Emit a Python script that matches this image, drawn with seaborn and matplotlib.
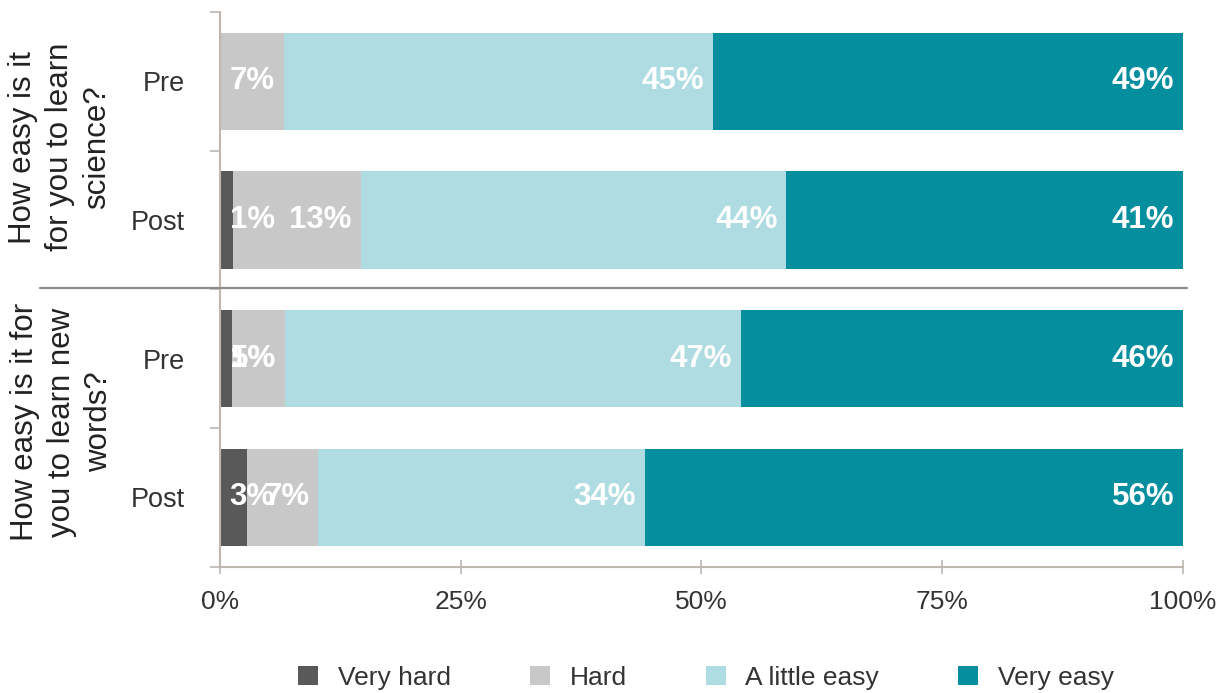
import pandas as pd
import seaborn as sns
import matplotlib.pyplot as plt
from matplotlib.patches import Patch
from matplotlib.lines import Line2D

# data (percent shares)
rows = ["sci_pre", "sci_post", "words_pre", "words_post"]
row_labels = ["Pre", "Post", "Pre", "Post"]
levels = ["Very hard", "Hard", "A little easy", "Very easy"]
very_hard = [0.0, 1.4, 1.3, 2.8]
hard = [6.6, 13.2, 5.4, 7.4]
little_easy = [44.6, 44.2, 47.4, 33.9]
very_easy = [48.8, 41.2, 45.9, 55.9]
groups = ["How easy is it\nfor you to learn\nscience?",
          "How easy is it for\nyou to learn new\nwords?"]
colors = ["#595959", "#c8c8c8", "#aedce2", "#048e9e"]

sns.set_style("white")
plt.rcParams["font.family"] = ["Liberation Sans", "DejaVu Sans"]

df = pd.DataFrame({"row": rows, "Very hard": very_hard, "Hard": hard,
                   "A little easy": little_easy, "Very easy": very_easy})
cum = df[levels].cumsum(axis=1)
for lev in levels:
    df["cum_" + lev] = cum[lev]
    df["start_" + lev] = cum[lev] - df[lev]

fig = plt.figure(figsize=(12.31, 6.93), dpi=100)
ax = fig.add_axes([0.1787, 0.182, 0.7823, 0.801])

# stacked bars: draw cumulative totals from widest to narrowest
for lev, col in reversed(list(zip(levels, colors))):
    sns.barplot(data=df, x="cum_" + lev, y="row", order=rows, color=col,
                width=0.7, orient="h", ax=ax, saturation=1,
                edgecolor="none", linewidth=0)

# value labels
for i, r in df.iterrows():
    for lev in levels:
        v = r[lev]
        if v < 0.5:
            continue
        txt = f"{round(v)}%"
        if v >= 5:
            ax.text(r["cum_" + lev] - 0.9, i, txt, ha="right", va="center",
                    color="white", fontsize=22.5, fontweight="bold")
        else:
            ax.text(r["start_" + lev] + 1.0, i, txt, ha="left", va="center",
                    color="white", fontsize=22.5, fontweight="bold")

ax.set_xlim(0, 100)
ax.set_ylim(3.5, -0.5)
ax.set_xticks([0, 25, 50, 75, 100])
ax.set_xticklabels(["0%", "25%", "50%", "75%", "100%"], fontsize=19, color="#333333")
ax.set_yticks(range(4))
ax.set_yticklabels(row_labels, fontsize=19.5, color="#333333")
ax.set_yticks([-0.5, 0.5, 1.5, 2.5, 3.5], minor=True)
ax.tick_params(axis="y", which="major", left=True, length=0, pad=25)
ax.tick_params(axis="y", which="minor", left=True, length=7, color="#bfb8b0", width=1.2)
ax.tick_params(axis="x", bottom=True, direction="inout", length=10, color="#bfb8b0",
               width=1.2, pad=12)
ax.set_xlabel("")
ax.set_ylabel("")
for s in ["top", "right"]:
    ax.spines[s].set_visible(False)
for s in ["left", "bottom"]:
    ax.spines[s].set_color("#bfb8b0")
    ax.spines[s].set_linewidth(1.5)

# group labels and separator
fig.text(60 / 1231, 1 - 147 / 693, groups[0], rotation=90, ha="center", va="center",
         fontsize=22.5, color="#222222", linespacing=1.3, multialignment="center")
fig.text(62 / 1231, 1 - 422 / 693, groups[1], rotation=90, ha="center", va="center",
         fontsize=22.5, color="#222222", linespacing=1.3, multialignment="center")
fig.add_artist(Line2D([40 / 1231, 1187 / 1231], [1 - 288 / 693, 1 - 288 / 693],
                      color="#8c8c8c", lw=1.6, transform=fig.transFigure))

handles = [Patch(facecolor=c, edgecolor="none") for c in colors]
fig.legend(handles, levels, loc="center", bbox_to_anchor=(0.5735, 0.022), ncol=4,
           frameon=False, fontsize=19, handlelength=0.75, handleheight=0.75,
           handletextpad=0.75, columnspacing=3.0, labelcolor="#333333")

fig.savefig("out.png", dpi=100)
